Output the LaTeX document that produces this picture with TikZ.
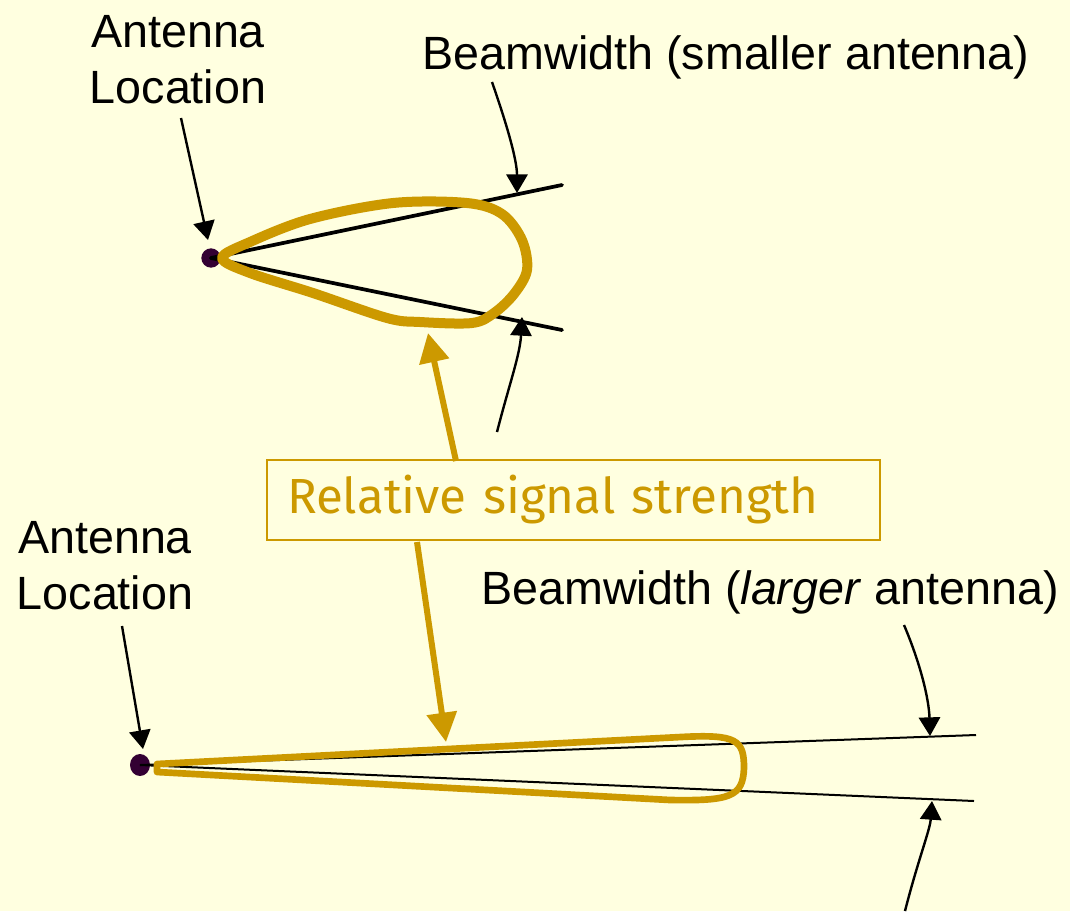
\documentclass[tikz,border=0pt]{standalone}
\usepackage{fontspec}
\setmainfont{Liberation Sans}
\newfontfamily\boxfont{Fira Sans}
\usetikzlibrary{arrows.meta,shapes.geometric}
\definecolor{bgc}{RGB}{255,255,224}
\definecolor{goldc}{RGB}{204,153,0}
\definecolor{dotc}{RGB}{51,0,51}
\tikzset{
  lbl/.style={font=\fontsize{35}{42}\selectfont, align=center, inner sep=0pt},
  antdot/.style={circle, fill=dotc, inner sep=0pt, minimum size=14.5pt},
  beam/.style={line width=2.8pt, line cap=round},
  thinbeam/.style={line width=1.5pt},
  lobe/.style={draw=goldc, line width=7.5pt, line join=round},
  thinlobe/.style={draw=goldc, line width=5pt, line join=round},
  ptr/.style={line width=1.8pt, -{Triangle[length=14pt,width=16pt]}},
  goldarrow/.style={draw=goldc, line width=4.5pt, -{Triangle[length=22pt,width=22pt]}},
  gbox/.style={draw=goldc, line width=1.5pt, text=goldc, font=\boxfont\fontsize{37}{44}\selectfont,
    text width=429.75pt, inner xsep=15pt, minimum height=60pt, align=left, fill=bgc}
}
\begin{document}
\begin{tikzpicture}[x=0.75pt,y=-0.75pt]
\fill[bgc] (0,0) rectangle (1070,911);
\useasboundingbox (0,0) rectangle (1070,911);

% ---------- top ----------
\node[lbl] (tl) at (178,60) {Antenna\\Location};
\node[lbl, anchor=center] (tb) at (726,57) {Beamwidth (smaller antenna)};
\node[antdot] (d1) at (211,258) {};
\coordinate (t1a) at (562,185);
\coordinate (t1b) at (562,330);
\draw[beam] (d1.center) -- (t1a);
\draw[beam] (d1.center) -- (t1b);
\draw[lobe] plot[smooth cycle, tension=0.55] coordinates {
  (222,258) (250,242) (310,219) (393,203) (467,203) (502,214) (522,240)
  (527,270) (514,294) (494,313) (472,323) (420,322) (387,318) (313,293) (250,273)};

\coordinate (tlA) at (181,118);
\coordinate (tlB) at (208,240);
\draw[ptr] (tlA) -- (tlB);
\coordinate (tbA) at (492,82);
\coordinate (tbB) at (517,193);
\draw[ptr] (tbA) .. controls (507,125) and (517,160) .. (tbB);
\coordinate (tbC) at (497,432);
\coordinate (tbD) at (522,317);
\draw[ptr] (tbC) .. controls (509,385) and (520,355) .. (tbD);

% ---------- box ----------
\node[gbox] (box) at (573.5,500) {Relative signal strength};
\coordinate (g1s) at (456,461);
\coordinate (g1e) at (428,333);
\draw[goldarrow] (g1s) -- (g1e);
\coordinate (g2s) at (417,542);
\coordinate (g2e) at (446,742);
\draw[goldarrow] (g2s) -- (g2e);

% ---------- bottom ----------
\node[lbl] (bl) at (105,566) {Antenna\\Location};
\node[lbl] (bb) at (770,592) {Beamwidth (\textit{larger} antenna)};
\node[ellipse, fill=dotc, inner sep=0pt, minimum width=15pt, minimum height=16.5pt] (d2) at (140,765) {};
\coordinate (b1a) at (976,735);
\coordinate (b1b) at (974,801);
\draw[thinbeam] (d2.center) -- (b1a);
\draw[thinbeam] (d2.center) -- (b1b);
\draw[thinlobe] (157,764) -- (681,737) .. controls (737,734) and (744,740) .. (744,768)
  .. controls (743,797) and (730,801) .. (670,800) -- (157,772) -- cycle;

\coordinate (blA) at (122,626);
\coordinate (blB) at (143,749);
\draw[ptr] (blA) -- (blB);
\coordinate (bbA) at (904,625);
\coordinate (bbB) at (930,736);
\draw[ptr] (bbA) .. controls (921,665) and (929,700) .. (bbB);
\coordinate (bbC) at (905,911);
\coordinate (bbD) at (932,801);
\draw[ptr] (bbC) .. controls (918,860) and (930,830) .. (bbD);
\end{tikzpicture}
\end{document}
